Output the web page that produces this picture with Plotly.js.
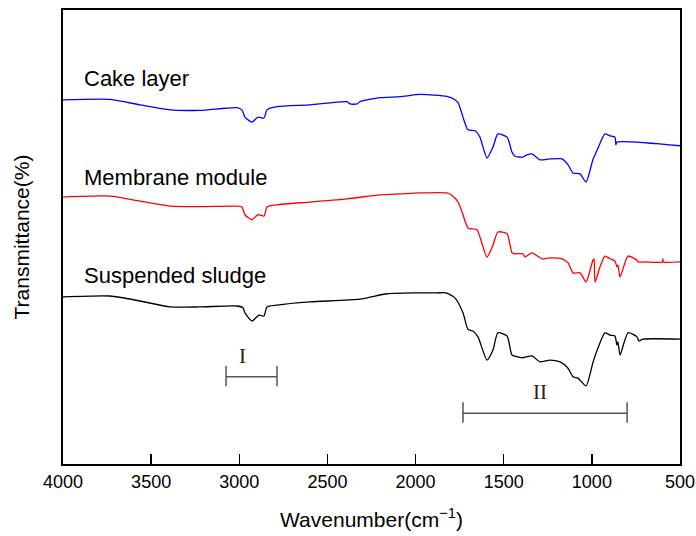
<!DOCTYPE html>
<html>
<head>
<meta charset="utf-8">
<script src="https://cdn.plot.ly/plotly-3.0.1.min.js"></script>
<style>html,body{margin:0;padding:0;background:#fff;}#chart{width:696px;height:536px;}</style>
</head>
<body>
<div id="chart"></div>
<script>
// Wavenumbers (cm-1) and offset transmittance readings (arbitrary, stacked) per sample
const cakeWn = [4000,3733,3563,3393,3223,3013,2985,2968,2928,2894,2860,2843,2786,2599,2389,2372,2332,2315,2202,2088,1975,1822,1788,1759,1731,1703,1663,1635,1595,1561,1533,1481,1453,1436,1391,1368,1340,1294,1238,1169,1135,1107,1067,1033,994,965,926,897,869,864,858,500];
const cakeT  = [80.2,80.3,79.1,78.0,77.9,78.5,78.0,76.4,75.3,76.4,76.2,78.0,78.7,79.1,79.8,79.3,79.3,79.8,80.7,80.9,81.4,81.0,80.5,79.6,76.4,73.6,73.4,72.0,67.4,69.8,72.7,72.0,68.7,67.8,67.6,68.1,68.3,67.0,67.2,67.2,65.9,64.1,63.9,62.1,67.0,69.6,72.7,72.3,72.0,70.3,70.9,70.1];

const membWn = [4000,3733,3563,3393,3223,3013,2985,2968,2928,2894,2860,2843,2786,2599,2389,2202,2088,1975,1822,1788,1759,1731,1703,1652,1635,1595,1561,1533,1481,1453,1436,1391,1380,1340,1283,1238,1169,1135,1107,1067,1033,994,988,982,954,926,897,869,858,852,840,795,744,738,700,600,597,594,500];
const membT  = [58.8,59.0,57.9,56.8,56.7,56.8,56.6,54.9,53.8,54.9,54.6,56.6,57.1,57.7,58.4,59.3,59.5,59.7,59.7,59.0,57.7,54.9,52.0,51.6,50.0,45.6,48.2,51.1,50.7,46.5,46.3,46.3,45.6,46.5,45.2,45.4,45.2,44.3,42.1,42.1,40.1,44.9,45.2,40.1,43.4,45.8,45.2,44.7,43.4,43.8,41.2,45.8,44.9,44.5,44.5,44.5,45.2,44.5,44.5];

const suspWn = [4000,3733,3563,3393,3223,3013,2979,2968,2928,2888,2860,2843,2786,2599,2315,2162,2000,1879,1828,1777,1731,1703,1675,1646,1595,1561,1533,1481,1453,1419,1391,1340,1294,1238,1180,1135,1107,1079,1033,994,965,926,897,869,858,852,840,795,744,733,710,500];
const suspT  = [36.8,37.0,35.9,34.6,34.6,34.8,34.4,33.3,31.5,32.8,32.6,34.6,35.0,35.7,36.3,37.5,37.7,37.7,37.7,36.6,33.3,29.7,29.3,28.0,22.9,25.1,28.9,28.2,24.0,23.6,23.4,23.8,22.5,22.9,22.5,21.1,19.2,18.9,17.2,22.3,25.6,28.9,28.4,28.2,26.2,26.9,24.0,28.9,28.0,27.1,27.5,27.5];

const seriesNames = ["Cake layer", "Membrane module", "Suspended sludge"];
const seriesColors = ["#0000ff", "#ff0000", "#000000"];
const labelY = [85.0, 63.0, 41.6];
const xTicks = [4000,3500,3000,2500,2000,1500,1000,500];

// Band regions marked on the chart
const bandNames = ["I", "II"];
const bandFrom = [3075, 1731];
const bandTo = [2786, 800];
const bandLevel = [19.2, 11.2];
const bandLabelX = [2979, 1294];

const traces = [[cakeWn,cakeT],[membWn,membT],[suspWn,suspT]].map((d,i)=>({
  x: d[0], y: d[1], type: 'scatter', mode: 'lines', name: seriesNames[i],
  line: {color: seriesColors[i], width: 1.3, shape: 'spline', smoothing: 0.6}, hoverinfo: 'skip'
}));

const annotations = seriesNames.map((n,i)=>({
  x: 3890, y: labelY[i], xref: 'x', yref: 'y', text: n, showarrow: false,
  xanchor: 'left', yanchor: 'middle', font: {family: 'Liberation Sans, Arial, sans-serif', size: 22, color: '#000'}
}));
const shapes = [];
bandNames.forEach((b,i)=>{
  const x0 = bandFrom[i], x1 = bandTo[i], yl = bandLevel[i];
  shapes.push({type:'line', xref:'x', yref:'y', x0:x0, x1:x1, y0:yl, y1:yl, line:{color:'#555', width:1.5}});
  shapes.push({type:'line', xref:'x', yref:'y', x0:x0, x1:x0, y0:yl-2.1, y1:yl+2.4, line:{color:'#555', width:1.5}});
  shapes.push({type:'line', xref:'x', yref:'y', x0:x1, x1:x1, y0:yl-2.1, y1:yl+2.4, line:{color:'#555', width:1.5}});
  annotations.push({x: bandLabelX[i], y: yl+4.6, xref:'x', yref:'y', text:b, showarrow:false,
    xanchor:'center', yanchor:'middle', font:{family:'Liberation Serif, Times New Roman, serif', size:21, color:'#222'}});
});

const layout = {
  width: 696, height: 536,
  margin: {l: 63, r: 16, t: 10, b: 72},
  paper_bgcolor: '#fff', plot_bgcolor: '#fff',
  showlegend: false,
  font: {family: 'Liberation Sans, Arial, sans-serif', color: '#000'},
  xaxis: {
    range: [4000, 500], tickvals: xTicks, ticktext: xTicks.map(String),
    ticks: 'inside', ticklen: 10, tickwidth: 1.3, tickcolor: '#000',
    showline: true, linecolor: '#000', linewidth: 2, mirror: true,
    showgrid: false, zeroline: false,
    tickfont: {size: 18, color: '#000'},
    title: {text: 'Wavenumber(cm<sup>−1</sup>)', font: {size: 21, color: '#000'}, standoff: 22}
  },
  yaxis: {
    range: [0, 100], showticklabels: false, ticks: '',
    showline: true, linecolor: '#000', linewidth: 2, mirror: true,
    showgrid: false, zeroline: false,
    title: {text: 'Transmittance(%)', font: {size: 21, color: '#000'}, standoff: 26}
  },
  annotations: annotations,
  shapes: shapes
};

Plotly.newPlot('chart', traces, layout, {displayModeBar: false, staticPlot: true});
</script>
</body>
</html>
